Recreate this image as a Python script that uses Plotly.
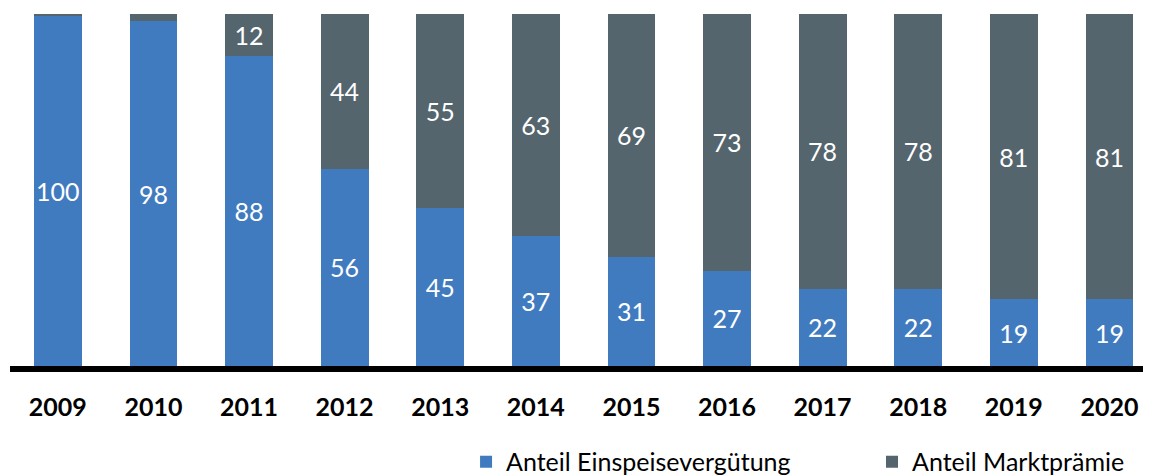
import plotly.graph_objects as go

years = ["2009", "2010", "2011", "2012", "2013", "2014", "2015", "2016", "2017", "2018", "2019", "2020"]
anteil_einspeiseverguetung = [99.5, 98, 88, 56, 45, 37, 31, 27, 22, 22, 19, 19]
anteil_marktpraemie = [0.5, 2, 12, 44, 55, 63, 69, 73, 78, 78, 81, 81]

BLUE = "#417BBF"
GRAY = "#55656D"
FONT = "Lato"

def labels(vals, minimum=5):
    return [f"{round(v)}" if v >= minimum else "" for v in vals]

fig = go.Figure()
fig.add_bar(
    x=years, y=anteil_einspeiseverguetung, name="Anteil Einspeisevergütung",
    marker=dict(color=BLUE, line=dict(width=0)),
    text=labels(anteil_einspeiseverguetung), textposition="inside", textangle=0,
    insidetextanchor="middle", constraintext="none",
    textfont=dict(family=FONT, size=25, color="white"),
    hoverinfo="skip", legend="legend",
)
fig.add_bar(
    x=years, y=anteil_marktpraemie, name="Anteil Marktprämie",
    marker=dict(color=GRAY, line=dict(width=0)),
    text=labels(anteil_marktpraemie), textposition="inside", textangle=0,
    insidetextanchor="middle", constraintext="none",
    textfont=dict(family=FONT, size=25, color="white"),
    hoverinfo="skip", legend="legend2",
)

legend_common = dict(
    orientation="h", yanchor="middle", y=-0.2727, xanchor="left",
    font=dict(family=FONT, size=25, color="black"),
    bgcolor="rgba(0,0,0,0)", borderwidth=0,
)

fig.update_layout(
    width=1151, height=475,
    margin=dict(l=2, r=8, t=6, b=117, autoexpand=False),
    barmode="stack", bargap=0.5,
    plot_bgcolor="white", paper_bgcolor="white",
    font=dict(family=FONT, color="black"),
    showlegend=True,
    legend=dict(x=0.3997, **legend_common),
    legend2=dict(x=0.7555, **legend_common),
)
fig.update_xaxes(
    type="category", range=[-0.5, 11.435],
    showline=True, linecolor="black", linewidth=6,
    showgrid=False, ticks="", ticklabelstandoff=14,
    tickfont=dict(family=FONT, size=25, color="black", weight="bold"),
)
fig.update_yaxes(range=[0, 100], visible=False, showgrid=False)

fig.write_html("out.html")
